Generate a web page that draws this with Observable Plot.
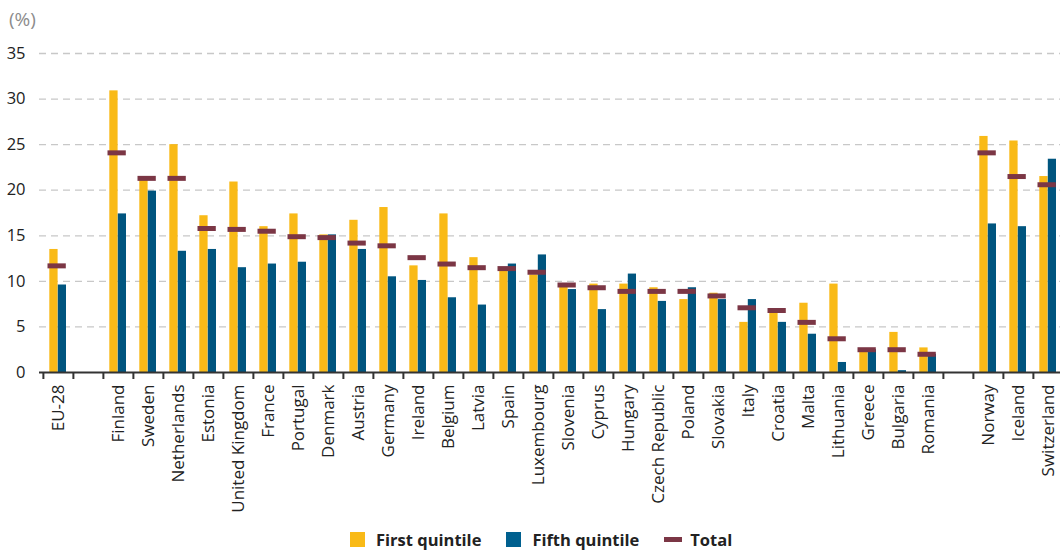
<!DOCTYPE html>
<html><head><meta charset="utf-8">
<script src="https://cdn.jsdelivr.net/npm/d3@7"></script>
<script src="https://cdn.jsdelivr.net/npm/@observablehq/plot@0.6"></script>
<style>
body{margin:0;background:#fff;font-family:"Open Sans",sans-serif;}
#wrap{position:relative;width:1060px;height:552px;overflow:hidden;}
#unit{position:absolute;left:9px;top:10px;font-size:19px;line-height:1;color:#8c8c8c;}
#chart{position:absolute;left:0;top:0;}
#legend{position:absolute;top:528px;left:350px;display:flex;align-items:center;font-weight:bold;font-size:16.5px;color:#222;white-space:nowrap;}
.sw{display:inline-block;width:15px;height:15px;margin-right:11px;}
.ln{display:inline-block;width:18px;height:5px;margin-right:8px;}
.item{display:flex;align-items:center;margin-right:25px;}
</style></head><body>
<div id="wrap"><div id="chart"></div><div id="unit">(%)</div>
<div id="legend">
<div class="item"><span class="sw" style="background:#F9BA17"></span>First quintile</div>
<div class="item"><span class="sw" style="background:#00608F"></span>Fifth quintile</div>
<div class="item" style="margin-right:0"><span class="ln" style="background:#7B3645"></span>Total</div>
</div></div>
<script>
const countries = ["EU-28","Finland","Sweden","Netherlands","Estonia","United Kingdom","France","Portugal","Denmark","Austria","Germany","Ireland","Belgium","Latvia","Spain","Luxembourg","Slovenia","Cyprus","Hungary","Czech Republic","Poland","Slovakia","Italy","Croatia","Malta","Lithuania","Greece","Bulgaria","Romania","Norway","Iceland","Switzerland"];
const firstQuintile = [13.5,30.9,21.2,25.0,17.2,20.9,16.0,17.4,15.1,16.7,18.1,11.7,17.4,12.6,11.2,10.7,9.5,9.7,9.7,9.3,8.0,8.7,5.5,6.6,7.6,9.7,2.2,4.4,2.7,25.9,25.4,21.5];
const fifthQuintile = [9.6,17.4,19.9,13.3,13.5,11.5,11.9,12.1,15.1,13.5,10.5,10.1,8.2,7.4,11.9,12.9,9.1,6.9,10.8,7.8,9.3,8.0,8.0,5.5,4.2,1.1,2.5,0.2,2.0,16.3,16.0,23.4];
const total = [11.7,24.1,21.3,21.3,15.8,15.7,15.5,14.9,14.8,14.2,13.9,12.6,11.9,11.5,11.4,11.0,9.6,9.3,8.9,8.9,8.9,8.4,7.1,6.8,5.5,3.7,2.5,2.5,2.0,24.1,21.5,20.6];
const yTicks = [0,5,10,15,20,25,30,35];

const rows = countries.map((c,i)=>({country:c, first:firstQuintile[i], fifth:fifthQuintile[i], total:total[i]}));
const domain = [countries[0], " ", ...countries.slice(1,29), "  ", ...countries.slice(29)];
const r0 = 39.5, r1 = 1067;
const bw = (r1 - r0) / domain.length;

const chart = Plot.plot({
  width:1060, height:515, marginLeft:39, marginRight:0, marginTop:53, marginBottom:143,
  style:{fontFamily:"Open Sans", fontSize:"16px", color:"#222", background:"transparent"},
  x:{type:"band", domain, range:[r0,r1], padding:0, label:null},
  y:{domain:[0,35], label:null},
  marks:[
    Plot.gridY(yTicks.slice(1), {stroke:"#c8c8c8", strokeOpacity:1, strokeDasharray:"7,5", strokeWidth:1.3}),
    Plot.axisY(yTicks, {tickSize:0, tickPadding:14, fontSize:16.5}),
    Plot.barY(rows, {x:"country", y:"first", fill:"#F9BA17", insetLeft:6.3, insetRight:15.4}),
    Plot.barY(rows, {x:"country", y:"fifth", fill:"#00557F", insetLeft:14.8, insetRight:7}),
    Plot.tickY(rows, {x:"country", y:"total", stroke:"#7B3645", strokeWidth:5, insetLeft:4.5, insetRight:7.2}),
    Plot.ruleY([0], {stroke:"#333", strokeWidth:2}),
    Plot.axisX({tickSize:7, text:null, dx:-bw/2, stroke:"#333", strokeWidth:2}),
    Plot.axisX({tickSize:0, tickRotate:-90, tickPadding:12, tickFormat:d=>d.trim(), fontSize:17})
  ]
});
document.getElementById("chart").appendChild(chart);
</script>
</body></html>
